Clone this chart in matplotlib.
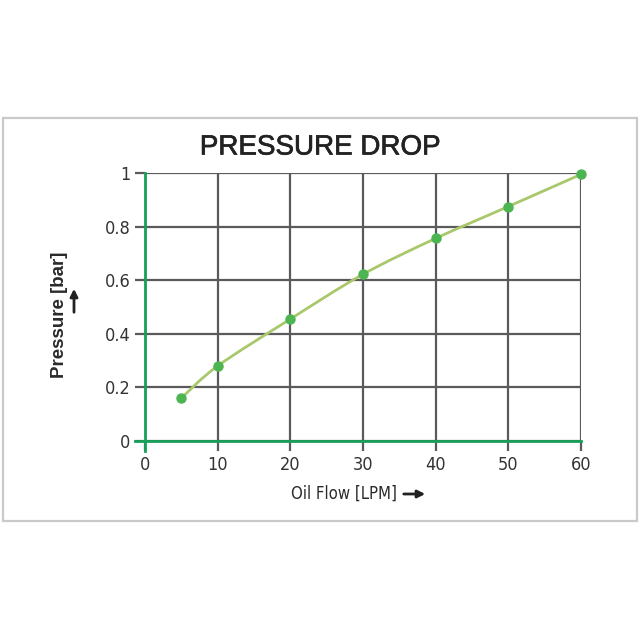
import matplotlib.pyplot as plt
import matplotlib.patches as mpatches
import matplotlib.patheffects as pe
from matplotlib.path import Path
import numpy as np

flow = [5, 10, 20, 30, 40, 50, 60]
pressure = [0.16, 0.28, 0.455, 0.622, 0.756, 0.875, 0.995]
x_ticks = [0, 10, 20, 30, 40, 50, 60]
y_ticks = [0, 0.2, 0.4, 0.6, 0.8, 1]
y_tick_labels = ['0', '0.2', '0.4', '0.6', '0.8', '1']

GRID = '#5a5a5a'
AXIS_GREEN = '#16a05a'
CURVE = '#a9c86c'
DOT = '#4cb552'


def smooth_path(xs, ys):
    # catmull-rom through the points, written as cubic bezier segments
    pts = np.column_stack([xs, ys])
    verts = [pts[0]]
    codes = [Path.MOVETO]
    n = len(pts)
    for i in range(n - 1):
        p0 = pts[max(i - 1, 0)]
        p1 = pts[i]
        p2 = pts[i + 1]
        p3 = pts[min(i + 2, n - 1)]
        c1 = p1 + (p2 - p0) / 6.0
        c2 = p2 - (p3 - p1) / 6.0
        verts += [c1, c2, p2]
        codes += [Path.CURVE4] * 3
    return Path(verts, codes)


fig = plt.figure(figsize=(6.4, 6.4), dpi=100)
fig.patch.set_facecolor('white')

# outer light grey frame
fig.patches.append(mpatches.Rectangle((3 / 640, 1 - 521 / 640), 634 / 640, 403 / 640,
                                      transform=fig.transFigure, fill=False,
                                      edgecolor='#c9c9c9', lw=1.6))

ax = fig.add_axes([145 / 640, 1 - 441 / 640, 436 / 640, 268 / 640])
ax.set_xlim(0, 60)
ax.set_ylim(0, 1)
for s in ax.spines.values():
    s.set_visible(False)

ax.set_xticks(x_ticks)
ax.set_yticks(y_ticks)
ax.set_yticklabels(y_tick_labels)
ax.tick_params(length=7.5, width=1.6, color=GRID, labelsize=13, labelcolor='#333333', pad=3)
for lab in ax.get_xticklabels() + ax.get_yticklabels():
    lab.set_family('DejaVu Sans')
    lab.set_stretch('condensed')
ax.grid(True, color=GRID, lw=1.6)
ax.set_axisbelow(True)

# green axis lines, poking out past the origin like the ticks
ax.axvline(0, ymin=-0.037, ymax=1, color=AXIS_GREEN, lw=2, clip_on=False, zorder=3)
ax.axhline(0, xmin=-0.023, xmax=1, color=AXIS_GREEN, lw=2, clip_on=False, zorder=3)

ax.add_patch(mpatches.PathPatch(smooth_path(flow, pressure), fill=False,
                                edgecolor=CURVE, lw=2, zorder=4))
ax.plot(flow, pressure, 'o', color=DOT, ms=6.5, zorder=5, clip_on=False)

fig.text(320 / 640, 1 - 147.5 / 640, 'PRESSURE DROP', ha='center', va='center',
         fontsize=20, color='#222222', family=['Liberation Sans', 'DejaVu Sans'],
         path_effects=[pe.withStroke(linewidth=0.5, foreground='#222222')])

fig.text(59 / 640, 1 - 315 / 640, 'Pressure [bar]', rotation=90, ha='center', va='center',
         fontsize=13.5, fontweight='bold', color='#2a2a2a',
         family=['Liberation Sans', 'DejaVu Sans'])
fig.text(344 / 640, 1 - 494 / 640, 'Oil Flow [LPM]', ha='center', va='center',
         fontsize=12, color='#2a2a2a', family='DejaVu Sans', stretch='condensed')

# little arrows next to the axis titles
fig.patches.append(mpatches.FancyArrowPatch((74 / 640, 1 - 315 / 640), (74 / 640, 1 - 286 / 640),
                                            transform=fig.transFigure, arrowstyle='-|>',
                                            mutation_scale=11, lw=2, color='#222222'))
fig.patches.append(mpatches.FancyArrowPatch((401 / 640, 1 - 494 / 640), (428 / 640, 1 - 494 / 640),
                                            transform=fig.transFigure, arrowstyle='-|>',
                                            mutation_scale=11, lw=2, color='#222222'))

fig.savefig('out.png', dpi=100, facecolor='white')
